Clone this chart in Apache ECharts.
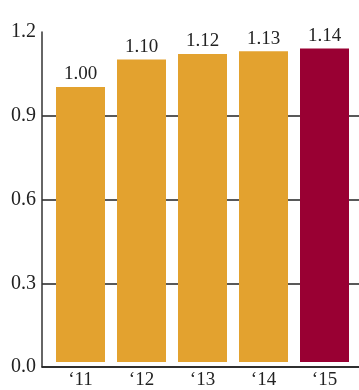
<!DOCTYPE html>
<html>
<head>
<meta charset="utf-8">
<script src="https://cdn.jsdelivr.net/npm/echarts@6/dist/echarts.min.js"></script>
<style>
  html, body { margin: 0; padding: 0; background: #fff; }
  #chart { width: 359px; height: 390px; }
</style>
</head>
<body>
<div id="chart"></div>
<script>
// Yearly values, 2011–2015
const years = ['\u201811', '\u201812', '\u201813', '\u201814', '\u201815'];
const values = [1.00, 1.10, 1.12, 1.13, 1.14];
const barColors = ['#E3A22F', '#E3A22F', '#E3A22F', '#E3A22F', '#990033'];
const yTicks = { min: 0, max: 1.2, interval: 0.3 };

const serif = '"Liberation Serif", "DejaVu Serif", serif';
const ink = '#222';

const chart = echarts.init(document.getElementById('chart'), null, { renderer: 'canvas' });

chart.setOption({
  animation: false,
  grid: [
    // frame: y axis, gridlines and baseline
    { left: 42, right: 0, top: 32, bottom: 23 },
    // bars
    { left: 50, right: 4, top: 32, bottom: 23 }
  ],
  xAxis: [
    {
      gridIndex: 0, type: 'value', min: 0, max: 1,
      axisLine: { show: true, onZero: false, lineStyle: { color: ink, width: 1.5 } },
      axisTick: { show: false }, axisLabel: { show: false }, splitLine: { show: false }
    },
    {
      gridIndex: 1, type: 'category', data: years,
      axisLine: { show: false }, axisTick: { show: false },
      axisLabel: { color: ink, fontFamily: serif, fontSize: 19, margin: 9 }
    }
  ],
  yAxis: [
    {
      gridIndex: 0, type: 'value', min: yTicks.min, max: yTicks.max, interval: yTicks.interval,
      axisLine: { show: true, lineStyle: { color: '#333', width: 1.5 } },
      axisTick: { show: false },
      axisLabel: {
        color: ink, fontFamily: serif, fontSize: 20, margin: 6,
        formatter: v => v.toFixed(1)
      },
      splitLine: { show: true, showMaxLine: false, lineStyle: { color: ink, width: 1.5 } }
    },
    {
      gridIndex: 1, type: 'value', min: yTicks.min, max: yTicks.max, interval: yTicks.interval,
      show: false
    }
  ],
  series: [{
    type: 'bar',
    xAxisIndex: 1, yAxisIndex: 1,
    barWidth: 49,
    data: values.map((v, i) => ({ value: v, itemStyle: { color: barColors[i] } })),
    label: {
      show: true, position: 'top', distance: 3,
      color: ink, fontFamily: serif, fontSize: 19,
      formatter: p => p.value.toFixed(2)
    }
  }]
});
</script>
</body>
</html>
